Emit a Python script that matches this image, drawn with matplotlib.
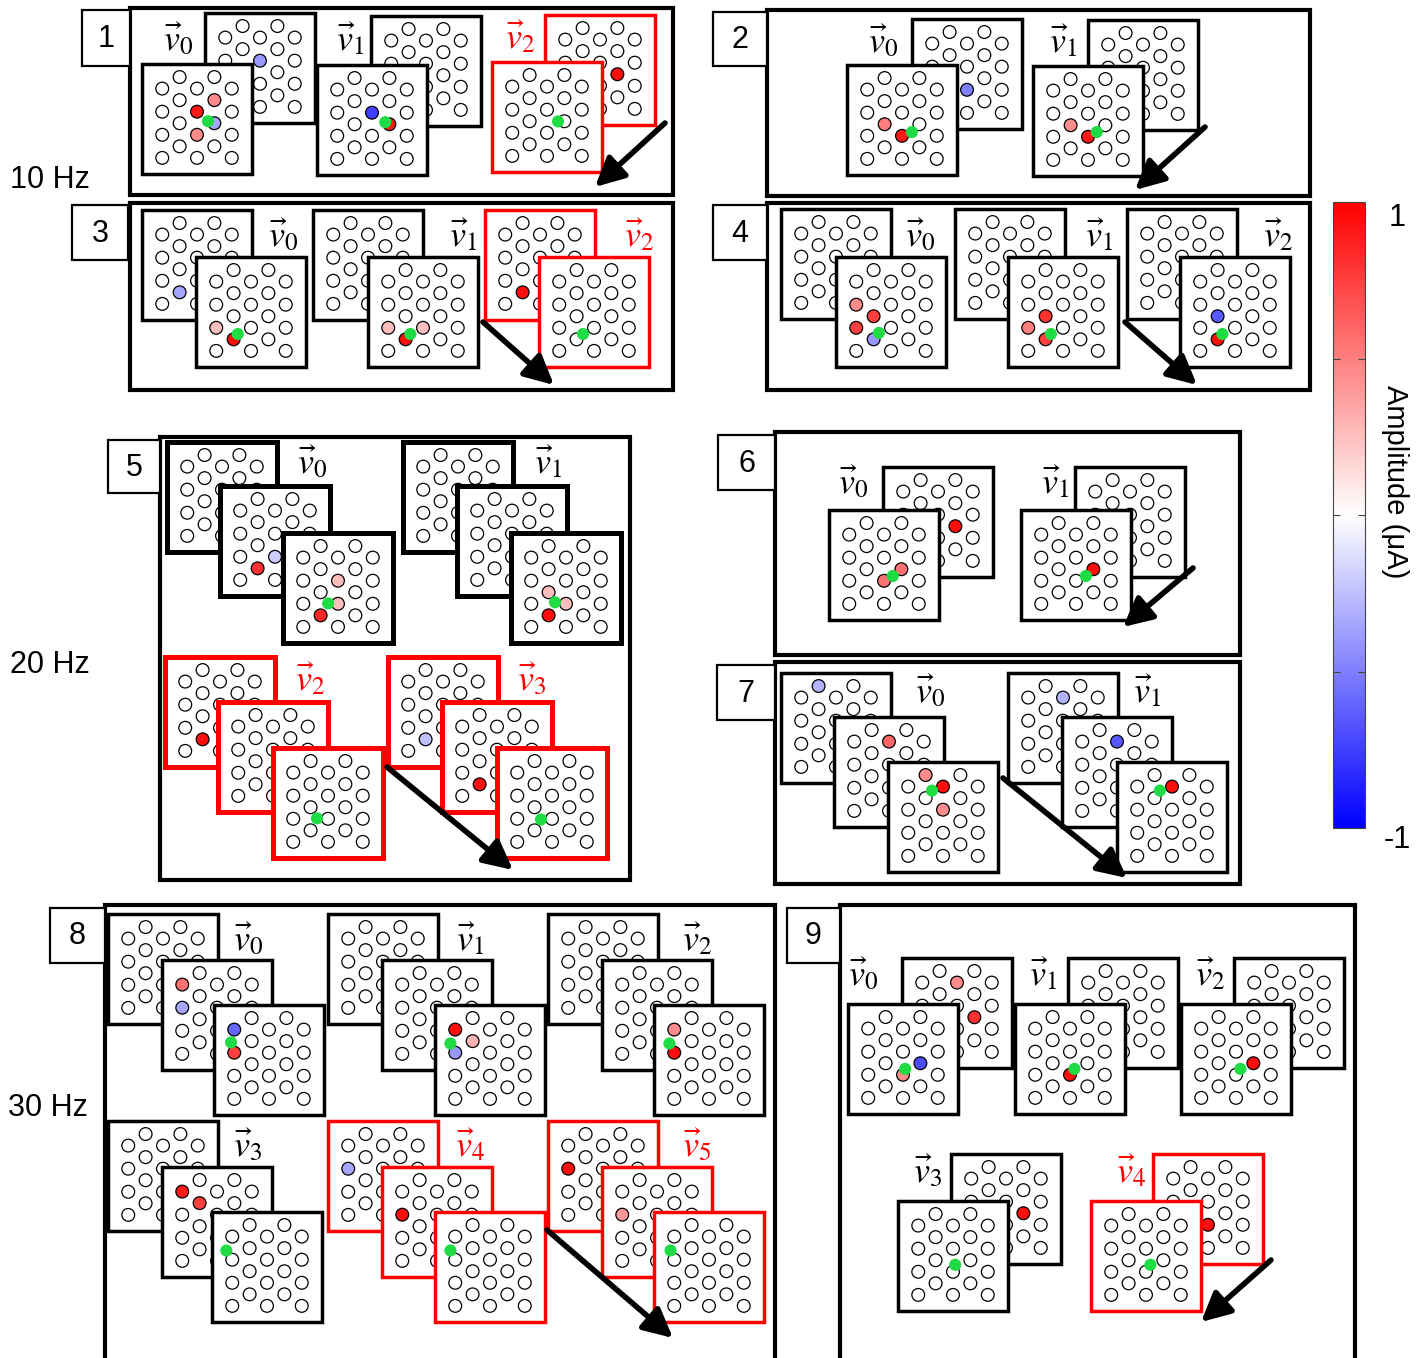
""" Electrode array stimulation patterns, nine panels at 10/20/30 Hz. """

import numpy as np
import matplotlib
import matplotlib.pyplot as plt
from matplotlib.patches import Rectangle, Circle
from matplotlib.colors import Normalize
from matplotlib.cm import ScalarMappable

plt.rcParams['font.family'] = ['Liberation Sans', 'DejaVu Sans']
plt.rcParams['mathtext.fontset'] = 'stix'

# Active electrodes per frame: (column, row slot, amplitude in uA).
# Each panel -> list of vectors -> list of frames (back to front).
P1_FRAMES = [
    [[(2, 3, -0.4)], [(2, 3, 0.9), (3, 2, 0.45), (2, 5, 0.45), (3, 4, -0.35)]],
    [[], [(2, 3, -0.75), (3, 4, 0.9)]],
    [[(3, 4, 0.95)], []],
]
P2_FRAMES = [
    [[(2, 5, -0.5)], [(1, 4, 0.5), (2, 5, 0.9)]],
    [[], [(1, 4, 0.45), (2, 5, 0.9)]],
]
P3_FRAMES = [
    [[(1, 6, -0.35)], [(0, 5, 0.25), (1, 6, 0.95)]],
    [[], [(0, 5, 0.25), (1, 6, 0.95), (2, 5, 0.25)]],
    [[(1, 6, 0.95)], []],
]
P4_FRAMES = [
    [[], [(0, 3, 0.45), (1, 4, 0.75), (0, 5, 0.75), (1, 6, -0.4)]],
    [[], [(1, 4, 0.8), (0, 5, 0.5), (1, 6, 0.75)]],
    [[], [(1, 4, -0.65), (1, 6, 0.95)]],
]
P5_FRAMES = [
    [[], [(1, 6, 0.8), (2, 5, -0.2)], [(2, 3, 0.25), (2, 5, 0.25), (1, 6, 0.85)]],
    [[], [], [(1, 4, 0.25), (2, 5, 0.25), (1, 6, 0.95)]],
    [[(1, 6, 0.95)], [], []],
    [[(1, 6, -0.25)], [(1, 6, 0.95)], []],
]
P6_FRAMES = [
    [[(3, 4, 0.95)], [(2, 5, 0.55), (3, 4, 0.55)]],
    [[], [(3, 4, 0.95)]],
]
P7_FRAMES = [
    [[(1, 0, -0.3)], [(2, 1, 0.6)], [(1, 0, 0.45), (2, 1, 0.95), (2, 3, 0.45)]],
    [[(2, 1, -0.3)], [(2, 1, -0.65)], [(2, 1, 0.95)]],
]
P8_FRAMES = [
    [[], [(0, 1, 0.55), (0, 3, -0.35)], [(0, 1, -0.6), (0, 3, 0.75)]],
    [[], [], [(0, 1, 0.95), (1, 2, 0.3), (0, 3, -0.4)]],
    [[], [], [(0, 1, 0.45), (0, 3, 0.95)]],
    [[], [(0, 1, 0.9), (1, 2, 0.75)], []],
    [[(0, 3, -0.35)], [(0, 3, 0.95)], []],
    [[(0, 3, 0.95)], [(0, 3, 0.4)], []],
]
P9_FRAMES = [
    [[(2, 1, 0.45), (3, 4, 0.8)], [(3, 4, -0.7), (2, 5, 0.45)]],
    [[], [(2, 5, 0.95)]],
    [[], [(3, 4, 0.95)]],
    [[(3, 4, 0.95)], []],
    [[(2, 5, 0.95)], []],
]

# Estimated source location (fraction of frame) shown on the front frame
P1_SOURCE = [(0.60, 0.52), (0.62, 0.52), (0.60, 0.54)]
P2_SOURCE = [(0.59, 0.61), (0.58, 0.60)]
P3_SOURCE = [(0.38, 0.70), (0.385, 0.70), (0.40, 0.70)]
P4_SOURCE = [(0.39, 0.69), (0.39, 0.70), (0.385, 0.70)]
P5_SOURCE = [(0.41, 0.64), (0.40, 0.63), (0.40, 0.64), (0.40, 0.65)]
P6_SOURCE = [(0.58, 0.60), (0.59, 0.60)]
P7_SOURCE = [(0.40, 0.26), (0.39, 0.26)]
P8_SOURCE = [(0.155, 0.34), (0.14, 0.35), (0.14, 0.35),
             (0.13, 0.35), (0.14, 0.35), (0.15, 0.35)]
P9_SOURCE = [(0.52, 0.59), (0.54, 0.59), (0.54, 0.59), (0.52, 0.58), (0.54, 0.58)]

# Vectors drawn in red (final vector of the sequence)
P1_RED = [0, 0, 1]
P2_RED = [0, 0]
P3_RED = [0, 0, 1]
P4_RED = [0, 0, 0]
P5_RED = [0, 0, 1, 1]
P6_RED = [0, 0]
P7_RED = [0, 0]
P8_RED = [0, 0, 0, 0, 1, 1]
P9_RED = [0, 0, 0, 0, 1]

FREQ_LABELS = ["10 Hz", "20 Hz", "30 Hz"]
CBAR_TICKS = [-1, -0.5, 0, 0.5, 1]

# ---------------------------------------------------------------- layout
W, H = 1424, 1358
S = 110                       # frame side (px)
COL_STEP, ROW_STEP, R_EL = 0.158, 0.105, 0.058
GRID = [(c, k) for c in range(5) for k in range(8) if (c + k) % 2 == 1]
CMAP = matplotlib.colormaps['bwr']
NORM = Normalize(-1, 1)
GREEN = '#1fdc45'
RED = '#ff0000'

# panel: box, tag box, frame top-lefts per vector, vector label xy, arrow
PANELS = [
    dict(n=1, frames=P1_FRAMES, src=P1_SOURCE, red=P1_RED,
         box=(130, 8, 673, 195), tag=(82, 10, 130, 66),
         pos=[[(205, 13), (142, 64)], [(371, 16), (317, 65)], [(545, 15), (492, 62)]],
         lab=[(178, 40), (350, 40), (520, 38)], arrow=((665, 123), (595, 187))),
    dict(n=2, frames=P2_FRAMES, src=P2_SOURCE, red=P2_RED,
         box=(767, 10, 1310, 196), tag=(713, 12, 767, 66),
         pos=[[(912, 19), (847, 65)], [(1088, 20), (1033, 66)]],
         lab=[(883, 42), (1063, 42)], arrow=((1205, 127), (1135, 190))),
    dict(n=3, frames=P3_FRAMES, src=P3_SOURCE, red=P3_RED,
         box=(130, 203, 673, 390), tag=(72, 205, 128, 260),
         pos=[[(142, 210), (196, 257)], [(313, 210), (368, 257)], [(485, 210), (539, 257)]],
         lab=[(283, 236), (463, 236), (639, 236)], arrow=((483, 322), (554, 385))),
    dict(n=4, frames=P4_FRAMES, src=P4_SOURCE, red=P4_RED,
         box=(767, 203, 1310, 390), tag=(713, 205, 767, 260),
         pos=[[(781, 209), (836, 257)], [(955, 209), (1008, 257)], [(1127, 209), (1180, 257)]],
         lab=[(920, 236), (1099, 236), (1278, 236)], arrow=((1125, 322), (1197, 385))),
    dict(n=5, frames=P5_FRAMES, src=P5_SOURCE, red=P5_RED, lw=3.6,
         box=(160, 437, 630, 880), tag=(108, 440, 160, 493),
         pos=[[(167, 442), (220, 486), (283, 533)], [(403, 442), (457, 486), (511, 533)],
              [(165, 657), (218, 702), (273, 748)], [(388, 657), (442, 702), (497, 748)]],
         lab=[(312, 463), (548, 463), (310, 680), (532, 680)],
         arrow=((387, 767), (513, 870))),
    dict(n=6, frames=P6_FRAMES, src=P6_SOURCE, red=P6_RED,
         box=(775, 432, 1240, 655), tag=(718, 435, 775, 490),
         pos=[[(883, 467), (829, 510)], [(1075, 467), (1021, 510)]],
         lab=[(853, 483), (1055, 483)], arrow=((1193, 568), (1123, 627))),
    dict(n=7, frames=P7_FRAMES, src=P7_SOURCE, red=P7_RED,
         box=(775, 662, 1240, 884), tag=(717, 665, 775, 720),
         pos=[[(781, 673), (834, 717), (888, 762)], [(1008, 673), (1062, 717), (1117, 762)]],
         lab=[(930, 692), (1147, 692)], arrow=((1003, 778), (1127, 878))),
    dict(n=8, frames=P8_FRAMES, src=P8_SOURCE, red=P8_RED,
         box=(105, 905, 775, 1375), tag=(50, 908, 105, 963),
         pos=[[(108, 914), (162, 960), (214, 1005)], [(328, 914), (382, 960), (435, 1005)],
              [(548, 914), (602, 960), (654, 1005)], [(108, 1121), (162, 1167), (212, 1212)],
              [(328, 1121), (382, 1167), (435, 1212)], [(548, 1121), (602, 1167), (654, 1212)]],
         lab=[(248, 940), (470, 940), (697, 940), (248, 1146), (470, 1146), (697, 1146)],
         arrow=((547, 1230), (673, 1338))),
    dict(n=9, frames=P9_FRAMES, src=P9_SOURCE, red=P9_RED,
         box=(840, 905, 1355, 1375), tag=(787, 908, 840, 963),
         pos=[[(902, 958), (848, 1004)], [(1068, 958), (1015, 1004)], [(1234, 958), (1181, 1004)],
              [(951, 1154), (898, 1201)], [(1153, 1154), (1091, 1201)]],
         lab=[(863, 975), (1043, 975), (1210, 975), (928, 1172), (1131, 1172)],
         arrow=((1271, 1260), (1201, 1322))),
]
FREQ_POS = [(10, 180), (10, 665), (8, 1108)]

fig = plt.figure(figsize=(W / 100, H / 100), dpi=100)
ax = fig.add_axes([0, 0, 1, 1])
ax.set_xlim(0, W)
ax.set_ylim(H, 0)
ax.set_aspect('equal')
ax.axis('off')

z = [1]


def nz():
    z[0] += 1
    return z[0]


def draw_frame(x0, y0, active, source, edge, lw):
    ax.add_patch(Rectangle((x0, y0), S, S, fc='white', ec=edge, lw=lw, zorder=nz()))
    amps = {(c, k): a for c, k, a in active}
    zz = nz()
    for c, k in GRID:
        ex = 0.5 + (c - 2) * COL_STEP
        ey = 0.486 + (k - 3.5) * ROW_STEP
        fc = CMAP(NORM(amps[(c, k)])) if (c, k) in amps else 'white'
        ax.add_patch(Circle((x0 + ex * S, y0 + ey * S), R_EL * S, fc=fc, ec='black',
                            lw=0.9, zorder=zz))
    if source is not None:
        ax.add_patch(Circle((x0 + source[0] * S, y0 + source[1] * S), R_EL * S * 0.95,
                            fc=GREEN, ec='none', zorder=nz()))


for p in PANELS:
    x1, y1, x2, y2 = p['box']
    ax.add_patch(Rectangle((x1, y1), x2 - x1, y2 - y1, fc='white', ec='black',
                           lw=3.0, zorder=nz()))
    flw = p.get('lw', 2.5)
    for i, frames in enumerate(p['frames']):
        edge = RED if p['red'][i] else 'black'
        n = len(frames)
        for j, active in enumerate(frames):
            fx, fy = p['pos'][i][j]
            draw_frame(fx, fy, active, p['src'][i] if j == n - 1 else None, edge, flw)
        lx, ly = p['lab'][i]
        ax.text(lx, ly, r'$\vec{v}_{%d}$' % i, fontsize=26, color=edge,
                ha='center', va='center', zorder=nz())
    (ax0, ay0), (ax1, ay1) = p['arrow']
    ax.annotate('', xy=(ax1, ay1), xytext=(ax0, ay0), zorder=nz(),
                arrowprops=dict(arrowstyle='-|>,head_length=0.8,head_width=0.4',
                                lw=4, color='black', mutation_scale=22,
                                shrinkA=0, shrinkB=0))
    tx1, ty1, tx2, ty2 = p['tag']
    ax.add_patch(Rectangle((tx1, ty1), tx2 - tx1, ty2 - ty1, fc='white', ec='black',
                           lw=1.6, zorder=nz()))
    ax.text((tx1 + tx2) / 2, (ty1 + ty2) / 2 + 1, str(p['n']), fontsize=22,
            ha='center', va='center', zorder=nz())

for lab, (fx, fy) in zip(FREQ_LABELS, FREQ_POS):
    ax.text(fx, fy, lab, fontsize=22, ha='left', va='center')

# colour bar
cax = fig.add_axes([1333 / W, 1 - 828 / H, 32 / W, 626 / H])
cb = fig.colorbar(ScalarMappable(norm=NORM, cmap=CMAP), cax=cax)
cb.outline.set_linewidth(0.8)
cb.outline.set_edgecolor('#444444')
cb.set_ticks(CBAR_TICKS[1:-1])
cax.tick_params(direction='in', length=5, width=0.8, left=True, right=True,
                labelright=False, labelleft=False, color='#444444')
fig.text(1397 / W, 1 - 218 / H, str(CBAR_TICKS[-1]), fontsize=22, ha='center', va='center')
fig.text(1397 / W, 1 - 840 / H, str(CBAR_TICKS[0]), fontsize=22, ha='center', va='center')
fig.text(1395 / W, 1 - 482 / H, 'Amplitude (μA)', fontsize=21, rotation=270,
         ha='center', va='center')

fig.savefig('out.png', dpi=100)
